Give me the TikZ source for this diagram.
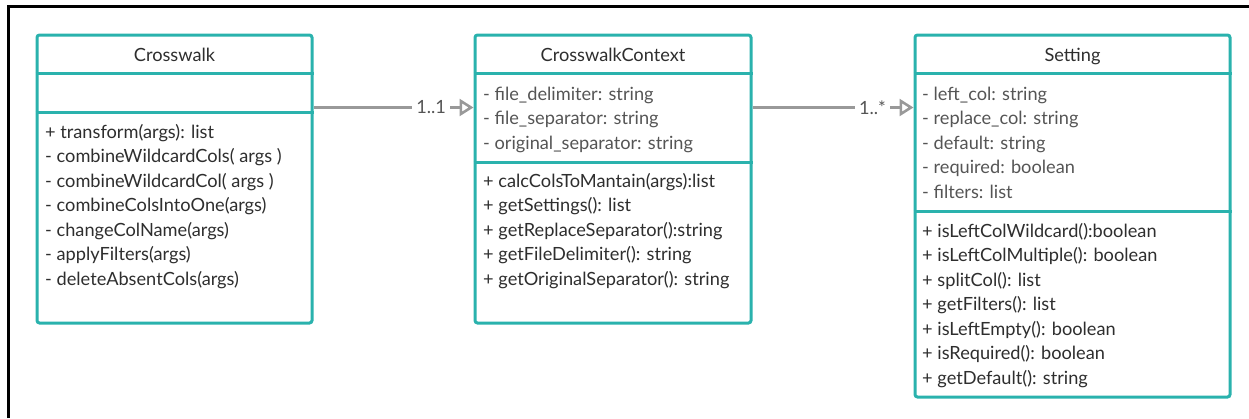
\documentclass[tikz,border=0pt]{standalone}
\usepackage{fontspec}
\setmainfont{Lato}
\usetikzlibrary{arrows.meta}
\definecolor{tealb}{HTML}{2AB2AD}
\definecolor{attrc}{HTML}{555555}
\definecolor{methc}{HTML}{2E2E2E}
\definecolor{connc}{HTML}{999999}
\newcommand{\umlfont}{\fontsize{18.2}{21}\selectfont}
\tikzset{
  x=1pt,y=-1pt,
  cls/.style={draw=tealb, line width=3pt, rounded corners=2.5pt, inner sep=0pt, fill=white},
  sepline/.style={draw=tealb, line width=3pt},
  ttl/.style={font=\umlfont, text=methc, inner sep=0pt, anchor=base},
  att/.style={font=\umlfont, text=attrc, inner sep=0pt, anchor=base west},
  mth/.style={font=\umlfont, text=methc, inner sep=0pt, anchor=base west},
  assoc/.style={draw=connc, line width=2.6pt, -{Triangle[open, length=14pt, width=17pt, line width=2.6pt]}},
  mult/.style={fill=white, text=attrc, font=\umlfont, inner xsep=4pt, inner ysep=1pt},
  frameline/.style={draw=black, line width=3pt}
}
\begin{document}
\begin{tikzpicture}
\useasboundingbox (0,0) rectangle (1249,418);
% frame
\coordinate (fa) at (8,418);
\coordinate (fb) at (8,6);
\coordinate (fc) at (1249,6);
\draw[frameline] (fa) -- (fb) -- (fc);

% boxes
\node[cls, minimum width=275pt, minimum height=288pt] (cw) at (174.5,179) {};
\node[cls, minimum width=276pt, minimum height=288pt] (ctx) at (613,179) {};
\node[cls, minimum width=315pt, minimum height=362pt] (set) at (1072.5,216) {};

\coordinate (y73) at (0,73);
\coordinate (y112) at (0,112);
\coordinate (y162) at (0,162);
\coordinate (y211) at (0,211);
\coordinate (y107) at (0,107.5);

% dividers
\draw[sepline] (cw.west |- y73) -- (cw.east |- y73);
\draw[sepline] (cw.west |- y112) -- (cw.east |- y112);
\draw[sepline] (ctx.west |- y73) -- (ctx.east |- y73);
\draw[sepline] (ctx.west |- y162) -- (ctx.east |- y162);
\draw[sepline] (set.west |- y73) -- (set.east |- y73);
\draw[sepline] (set.west |- y211) -- (set.east |- y211);

% titles
\node[ttl] (cwt) at (174.5,61) {Crosswalk};
\node[ttl] (ctxt) at (613,61) {CrosswalkContext};
\node[ttl] (sett) at (1072.5,61) {Setting};

% Crosswalk methods
\node[mth] (cwm1) at (45,138) {+ transform(args): list};
\node[mth] (cwm2) at (45,162.5) {- combineWildcardCols( args )};
\node[mth] (cwm3) at (45,187) {- combineWildcardCol( args )};
\node[mth] (cwm4) at (45,211.5) {- combineColsIntoOne(args)};
\node[mth] (cwm5) at (45,236) {- changeColName(args)};
\node[mth] (cwm6) at (45,260.5) {- applyFilters(args)};
\node[mth] (cwm7) at (45,285) {- deleteAbsentCols(args)};

% CrosswalkContext attributes
\node[att] (cxa1) at (483,100) {- file\_delimiter: string};
\node[att] (cxa2) at (483,124.5) {- file\_separator: string};
\node[att] (cxa3) at (483,149) {- original\_separator: string};
% CrosswalkContext methods
\node[mth] (cxm1) at (483,187) {+ calcColsToMantain(args):list};
\node[mth] (cxm2) at (483,211.5) {+ getSettings(): list};
\node[mth] (cxm3) at (483,236) {+ getReplaceSeparator():string};
\node[mth] (cxm4) at (483,260.5) {+ getFileDelimiter(): string};
\node[mth] (cxm5) at (483,285) {+ getOriginalSeparator(): string};

% Setting attributes
\node[att] (sa1) at (922,100) {- left\_col: string};
\node[att] (sa2) at (922,124.5) {- replace\_col: string};
\node[att] (sa3) at (922,149) {- default: string};
\node[att] (sa4) at (922,173.5) {- required: boolean};
\node[att] (sa5) at (922,198) {- filters: list};
% Setting methods
\node[mth] (sm1) at (922,237) {+ isLeftColWildcard():boolean};
\node[mth] (sm2) at (922,261.5) {+ isLeftColMultiple(): boolean};
\node[mth] (sm3) at (922,286) {+ splitCol(): list};
\node[mth] (sm4) at (922,310.5) {+ getFilters(): list};
\node[mth] (sm5) at (922,335) {+ isLeftEmpty(): boolean};
\node[mth] (sm6) at (922,359.5) {+ isRequired(): boolean};
\node[mth] (sm7) at (922,384) {+ getDefault(): string};

% connectors
\draw[assoc] (cw.east |- y107) -- node[mult, pos=0.735] (m1) {1..1} (ctx.west |- y107);
\draw[assoc] (ctx.east |- y107) -- node[mult, pos=0.745] (m2) {1..*} (set.west |- y107);
\end{tikzpicture}
\end{document}
